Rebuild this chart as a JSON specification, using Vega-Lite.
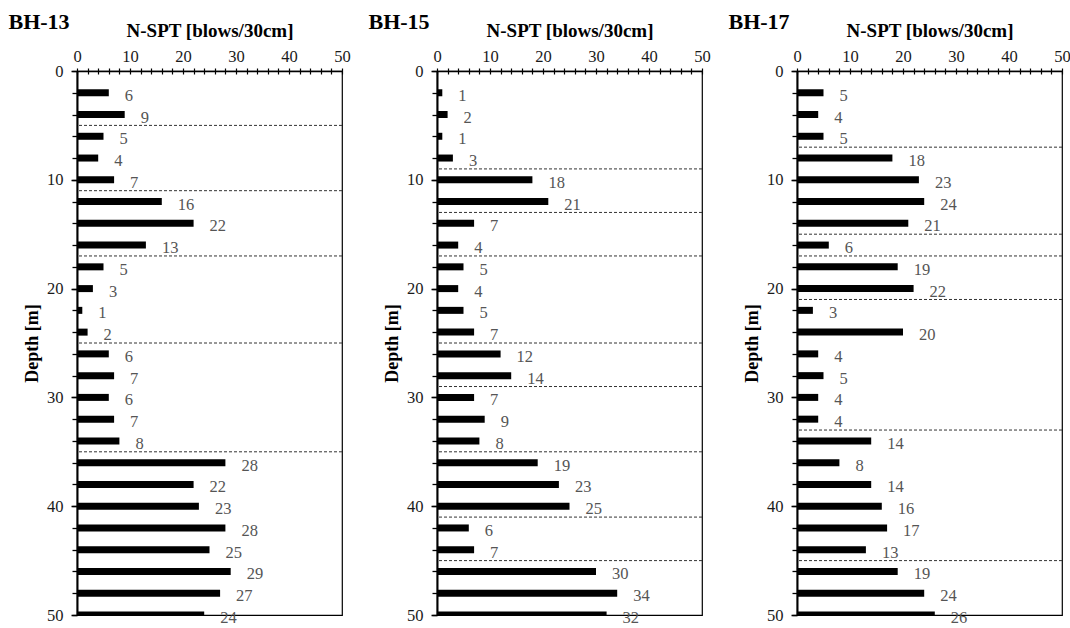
{
  "$schema": "https://vega.github.io/schema/vega-lite/v6.json",
  "padding": {"left": 7, "top": 9, "right": 0, "bottom": 0},
  "spacing": 95,
  "bounds": "flush",
  "datasets": {
    "spt": [
      {"bh":"BH-13","depth":2,"N":6},{"bh":"BH-13","depth":4,"N":9},{"bh":"BH-13","depth":6,"N":5},{"bh":"BH-13","depth":8,"N":4},{"bh":"BH-13","depth":10,"N":7},
      {"bh":"BH-13","depth":12,"N":16},{"bh":"BH-13","depth":14,"N":22},{"bh":"BH-13","depth":16,"N":13},{"bh":"BH-13","depth":18,"N":5},{"bh":"BH-13","depth":20,"N":3},
      {"bh":"BH-13","depth":22,"N":1},{"bh":"BH-13","depth":24,"N":2},{"bh":"BH-13","depth":26,"N":6},{"bh":"BH-13","depth":28,"N":7},{"bh":"BH-13","depth":30,"N":6},
      {"bh":"BH-13","depth":32,"N":7},{"bh":"BH-13","depth":34,"N":8},{"bh":"BH-13","depth":36,"N":28},{"bh":"BH-13","depth":38,"N":22},{"bh":"BH-13","depth":40,"N":23},
      {"bh":"BH-13","depth":42,"N":28},{"bh":"BH-13","depth":44,"N":25},{"bh":"BH-13","depth":46,"N":29},{"bh":"BH-13","depth":48,"N":27},{"bh":"BH-13","depth":50,"N":24},
      {"bh":"BH-15","depth":2,"N":1},{"bh":"BH-15","depth":4,"N":2},{"bh":"BH-15","depth":6,"N":1},{"bh":"BH-15","depth":8,"N":3},{"bh":"BH-15","depth":10,"N":18},
      {"bh":"BH-15","depth":12,"N":21},{"bh":"BH-15","depth":14,"N":7},{"bh":"BH-15","depth":16,"N":4},{"bh":"BH-15","depth":18,"N":5},{"bh":"BH-15","depth":20,"N":4},
      {"bh":"BH-15","depth":22,"N":5},{"bh":"BH-15","depth":24,"N":7},{"bh":"BH-15","depth":26,"N":12},{"bh":"BH-15","depth":28,"N":14},{"bh":"BH-15","depth":30,"N":7},
      {"bh":"BH-15","depth":32,"N":9},{"bh":"BH-15","depth":34,"N":8},{"bh":"BH-15","depth":36,"N":19},{"bh":"BH-15","depth":38,"N":23},{"bh":"BH-15","depth":40,"N":25},
      {"bh":"BH-15","depth":42,"N":6},{"bh":"BH-15","depth":44,"N":7},{"bh":"BH-15","depth":46,"N":30},{"bh":"BH-15","depth":48,"N":34},{"bh":"BH-15","depth":50,"N":32},
      {"bh":"BH-17","depth":2,"N":5},{"bh":"BH-17","depth":4,"N":4},{"bh":"BH-17","depth":6,"N":5},{"bh":"BH-17","depth":8,"N":18},{"bh":"BH-17","depth":10,"N":23},
      {"bh":"BH-17","depth":12,"N":24},{"bh":"BH-17","depth":14,"N":21},{"bh":"BH-17","depth":16,"N":6},{"bh":"BH-17","depth":18,"N":19},{"bh":"BH-17","depth":20,"N":22},
      {"bh":"BH-17","depth":22,"N":3},{"bh":"BH-17","depth":24,"N":20},{"bh":"BH-17","depth":26,"N":4},{"bh":"BH-17","depth":28,"N":5},{"bh":"BH-17","depth":30,"N":4},
      {"bh":"BH-17","depth":32,"N":4},{"bh":"BH-17","depth":34,"N":14},{"bh":"BH-17","depth":36,"N":8},{"bh":"BH-17","depth":38,"N":14},{"bh":"BH-17","depth":40,"N":16},
      {"bh":"BH-17","depth":42,"N":17},{"bh":"BH-17","depth":44,"N":13},{"bh":"BH-17","depth":46,"N":19},{"bh":"BH-17","depth":48,"N":24},{"bh":"BH-17","depth":50,"N":26}
    ],
    "bounds": [
      {"bh":"BH-13","depth":5},{"bh":"BH-13","depth":11},{"bh":"BH-13","depth":17},{"bh":"BH-13","depth":25},{"bh":"BH-13","depth":35},
      {"bh":"BH-15","depth":9},{"bh":"BH-15","depth":13},{"bh":"BH-15","depth":17},{"bh":"BH-15","depth":25},{"bh":"BH-15","depth":29},{"bh":"BH-15","depth":35},{"bh":"BH-15","depth":41},{"bh":"BH-15","depth":45},
      {"bh":"BH-17","depth":7},{"bh":"BH-17","depth":15},{"bh":"BH-17","depth":17},{"bh":"BH-17","depth":21},{"bh":"BH-17","depth":33},{"bh":"BH-17","depth":45}
    ]
  },
  "config": {
    "font": "Liberation Serif",
    "view": {"stroke": "black", "strokeWidth": 1.2},
    "title": {"font": "Liberation Serif", "fontSize": 22, "fontWeight": "bold", "color": "black", "anchor": "start", "frame": "bounds", "dx": -15, "offset": -12},
    "axis": {"labelFont": "Liberation Serif", "titleFont": "Liberation Serif", "labelFontSize": 16.5, "titleFontWeight": "bold", "labelColor": "#1a1a1a", "titleColor": "black", "domainColor": "black", "tickColor": "black", "grid": false, "labelOverlap": false, "labelFlush": false},
    "axisX": {"titleFontSize": 19},
    "axisY": {"titleFontSize": 18}
  },
  "hconcat": [
    {
      "width": 265, "height": 544,
      "title": "BH-13",
      "resolve": {"axis": {"x": "independent", "y": "independent"}},
      "layer": [
        {
          "data": {"name": "spt"}, "transform": [{"filter": "datum.bh === 'BH-13'"}],
          "mark": {"type": "bar", "orient": "horizontal", "size": 7, "color": "black", "clip": true},
          "encoding": {
            "y": {"field": "depth", "type": "quantitative", "scale": {"domain": [0, 50], "reverse": true, "nice": false, "padding": 0},
                  "axis": {"orient": "left", "title": "Depth [m]", "values": [0,10,20,30,40,50], "labelFlush": false, "tickSize": 6, "tickWidth": 1.5, "domainWidth": 2, "labelPadding": 8, "titlePadding": 5}},
            "x": {"field": "N", "type": "quantitative", "scale": {"domain": [0, 50], "nice": false, "padding": 0},
                  "axis": {"orient": "top", "title": "N-SPT [blows/30cm]", "values": [0,2,4,6,8,10,12,14,16,18,20,22,24,26,28,30,32,34,36,38,40,42,44,46,48,50], "labelExpr": "datum.value % 10 === 0 ? datum.label : ''", "labelFlush": false, "tickSize": 3, "tickWidth": 1.2, "domainWidth": 1.5, "labelPadding": 4, "titlePadding": 7.5}}
          }
        },
        {
          "data": {"name": "spt"}, "transform": [{"filter": "datum.bh === 'BH-13'"}],
          "mark": {"type": "text", "align": "left", "baseline": "middle", "dx": 16, "dy": 3, "color": "#555", "fontSize": 16.5, "font": "Liberation Serif"},
          "encoding": {
            "y": {"field": "depth", "type": "quantitative", "axis": {"orient": "left", "title": null, "labels": false, "domain": false, "values": [0,2,4,6,8,10,12,14,16,18,20,22,24,26,28,30,32,34,36,38,40,42,44,46,48,50], "tickSize": 5, "tickWidth": 1.3}},
            "x": {"field": "N", "type": "quantitative", "axis": {"orient": "top", "title": null, "labels": false, "domain": false, "values": [0,2,4,6,8,10,12,14,16,18,20,22,24,26,28,30,32,34,36,38,40,42,44,46,48,50], "tickSize": -3, "tickWidth": 1.2}},
            "text": {"field": "N", "type": "quantitative"}
          }
        },
        {
          "data": {"name": "bounds"}, "transform": [{"filter": "datum.bh === 'BH-13'"}],
          "mark": {"type": "rule", "strokeDash": [3, 2], "strokeWidth": 1, "color": "#333"},
          "encoding": {"y": {"field": "depth", "type": "quantitative", "axis": null}}
        }
      ]
    },
    {
      "width": 265, "height": 544,
      "title": "BH-15",
      "resolve": {"axis": {"x": "independent", "y": "independent"}},
      "layer": [
        {
          "data": {"name": "spt"}, "transform": [{"filter": "datum.bh === 'BH-15'"}],
          "mark": {"type": "bar", "orient": "horizontal", "size": 7, "color": "black", "clip": true},
          "encoding": {
            "y": {"field": "depth", "type": "quantitative", "scale": {"domain": [0, 50], "reverse": true, "nice": false, "padding": 0},
                  "axis": {"orient": "left", "title": "Depth [m]", "values": [0,10,20,30,40,50], "labelFlush": false, "tickSize": 6, "tickWidth": 1.5, "domainWidth": 2, "labelPadding": 8, "titlePadding": 5}},
            "x": {"field": "N", "type": "quantitative", "scale": {"domain": [0, 50], "nice": false, "padding": 0},
                  "axis": {"orient": "top", "title": "N-SPT [blows/30cm]", "values": [0,2,4,6,8,10,12,14,16,18,20,22,24,26,28,30,32,34,36,38,40,42,44,46,48,50], "labelExpr": "datum.value % 10 === 0 ? datum.label : ''", "labelFlush": false, "tickSize": 3, "tickWidth": 1.2, "domainWidth": 1.5, "labelPadding": 4, "titlePadding": 7.5}}
          }
        },
        {
          "data": {"name": "spt"}, "transform": [{"filter": "datum.bh === 'BH-15'"}],
          "mark": {"type": "text", "align": "left", "baseline": "middle", "dx": 16, "dy": 3, "color": "#555", "fontSize": 16.5, "font": "Liberation Serif"},
          "encoding": {
            "y": {"field": "depth", "type": "quantitative", "axis": {"orient": "left", "title": null, "labels": false, "domain": false, "values": [0,2,4,6,8,10,12,14,16,18,20,22,24,26,28,30,32,34,36,38,40,42,44,46,48,50], "tickSize": 5, "tickWidth": 1.3}},
            "x": {"field": "N", "type": "quantitative", "axis": {"orient": "top", "title": null, "labels": false, "domain": false, "values": [0,2,4,6,8,10,12,14,16,18,20,22,24,26,28,30,32,34,36,38,40,42,44,46,48,50], "tickSize": -3, "tickWidth": 1.2}},
            "text": {"field": "N", "type": "quantitative"}
          }
        },
        {
          "data": {"name": "bounds"}, "transform": [{"filter": "datum.bh === 'BH-15'"}],
          "mark": {"type": "rule", "strokeDash": [3, 2], "strokeWidth": 1, "color": "#333"},
          "encoding": {"y": {"field": "depth", "type": "quantitative", "axis": null}}
        }
      ]
    },
    {
      "width": 265, "height": 544,
      "title": "BH-17",
      "resolve": {"axis": {"x": "independent", "y": "independent"}},
      "layer": [
        {
          "data": {"name": "spt"}, "transform": [{"filter": "datum.bh === 'BH-17'"}],
          "mark": {"type": "bar", "orient": "horizontal", "size": 7, "color": "black", "clip": true},
          "encoding": {
            "y": {"field": "depth", "type": "quantitative", "scale": {"domain": [0, 50], "reverse": true, "nice": false, "padding": 0},
                  "axis": {"orient": "left", "title": "Depth [m]", "values": [0,10,20,30,40,50], "labelFlush": false, "tickSize": 6, "tickWidth": 1.5, "domainWidth": 2, "labelPadding": 8, "titlePadding": 5}},
            "x": {"field": "N", "type": "quantitative", "scale": {"domain": [0, 50], "nice": false, "padding": 0},
                  "axis": {"orient": "top", "title": "N-SPT [blows/30cm]", "values": [0,2,4,6,8,10,12,14,16,18,20,22,24,26,28,30,32,34,36,38,40,42,44,46,48,50], "labelExpr": "datum.value % 10 === 0 ? datum.label : ''", "labelFlush": false, "tickSize": 3, "tickWidth": 1.2, "domainWidth": 1.5, "labelPadding": 4, "titlePadding": 7.5}}
          }
        },
        {
          "data": {"name": "spt"}, "transform": [{"filter": "datum.bh === 'BH-17'"}],
          "mark": {"type": "text", "align": "left", "baseline": "middle", "dx": 16, "dy": 3, "color": "#555", "fontSize": 16.5, "font": "Liberation Serif"},
          "encoding": {
            "y": {"field": "depth", "type": "quantitative", "axis": {"orient": "left", "title": null, "labels": false, "domain": false, "values": [0,2,4,6,8,10,12,14,16,18,20,22,24,26,28,30,32,34,36,38,40,42,44,46,48,50], "tickSize": 5, "tickWidth": 1.3}},
            "x": {"field": "N", "type": "quantitative", "axis": {"orient": "top", "title": null, "labels": false, "domain": false, "values": [0,2,4,6,8,10,12,14,16,18,20,22,24,26,28,30,32,34,36,38,40,42,44,46,48,50], "tickSize": -3, "tickWidth": 1.2}},
            "text": {"field": "N", "type": "quantitative"}
          }
        },
        {
          "data": {"name": "bounds"}, "transform": [{"filter": "datum.bh === 'BH-17'"}],
          "mark": {"type": "rule", "strokeDash": [3, 2], "strokeWidth": 1, "color": "#333"},
          "encoding": {"y": {"field": "depth", "type": "quantitative", "axis": null}}
        }
      ]
    }
  ]
}
